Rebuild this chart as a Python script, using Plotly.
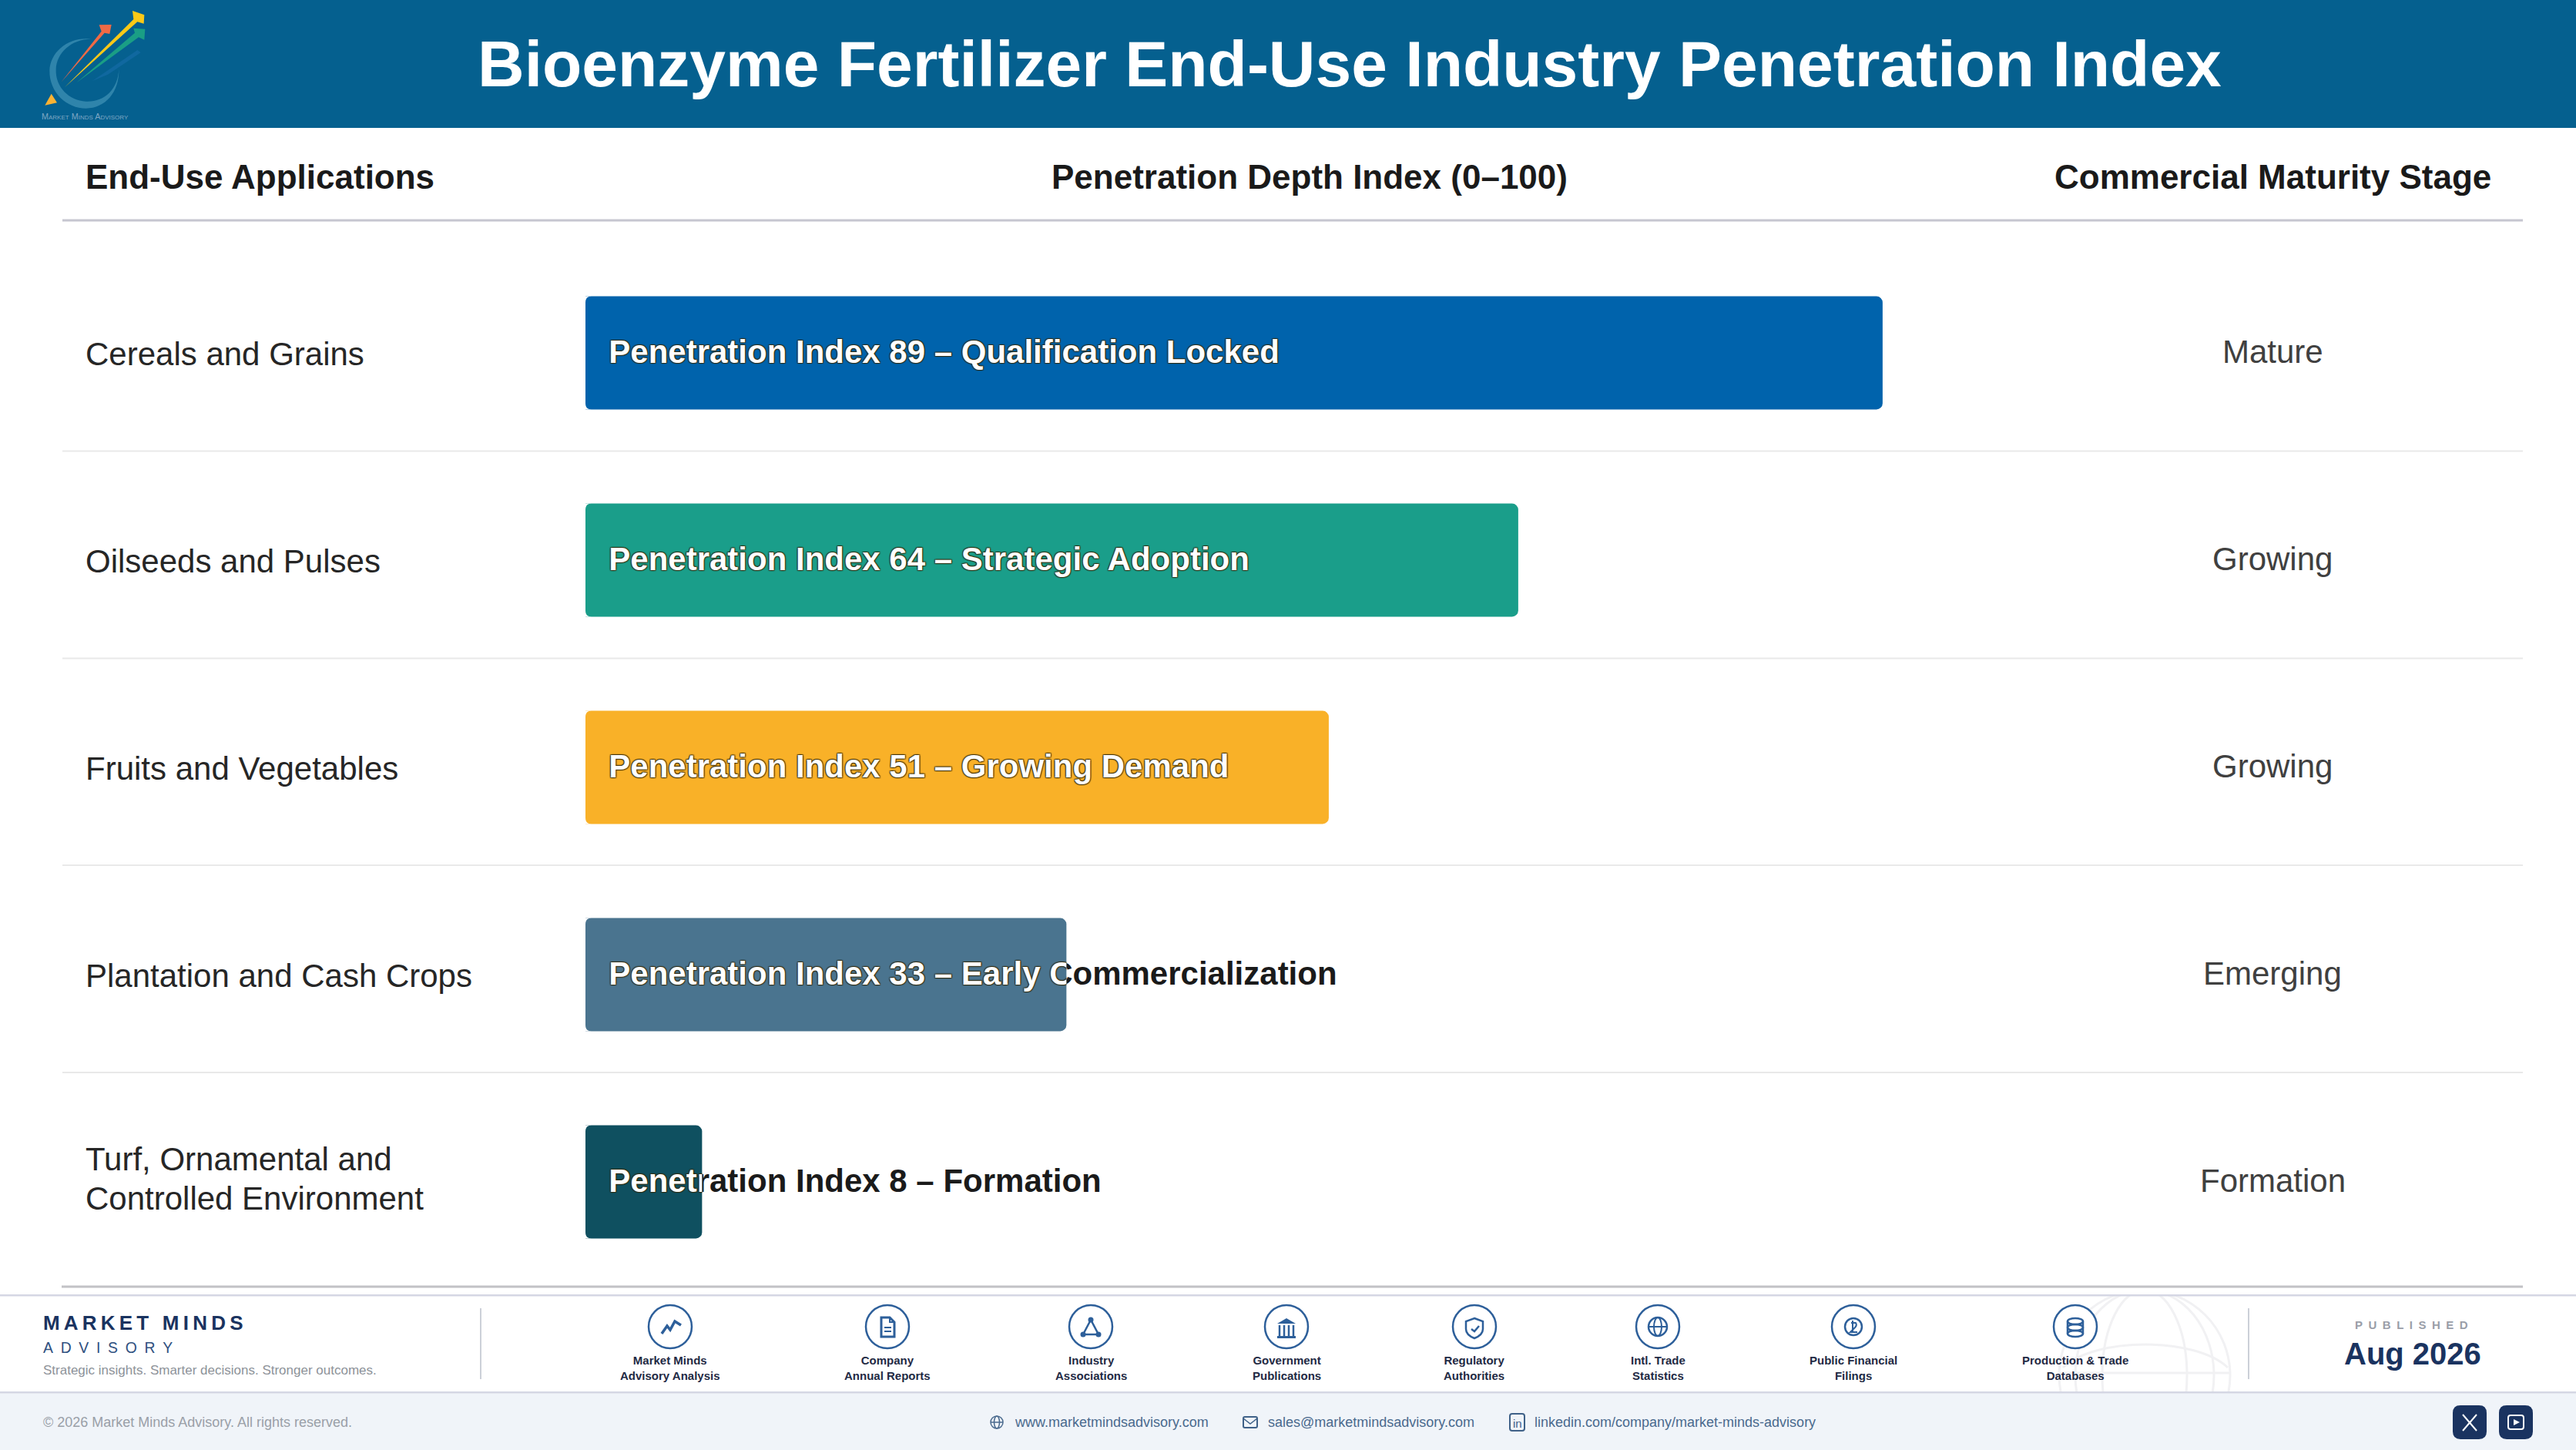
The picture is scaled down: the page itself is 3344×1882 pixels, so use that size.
import re

import plotly.graph_objects as go

W, H = 3344, 1882
FONT = 'Liberation Sans'

categories = ['Cereals and Grains', 'Oilseeds and Pulses', 'Fruits and Vegetables',
              'Plantation and Cash Crops', 'Turf, Ornamental and<br>Controlled Environment']
index_values = [89, 64, 51, 33, 8]
index_stages = ['Qualification Locked', 'Strategic Adoption', 'Growing Demand',
                'Early Commercialization', 'Formation']
maturity = ['Mature', 'Growing', 'Growing', 'Emerging', 'Formation']
bar_colors = ['#0063ac', '#1a9e8a', '#f9b128', '#4a748f', '#0f5060']

source_labels = ['Market Minds<br>Advisory Analysis', 'Company<br>Annual Reports', 'Industry<br>Associations',
                 'Government<br>Publications', 'Regulatory<br>Authorities', 'Intl. Trade<br>Statistics',
                 'Public Financial<br>Filings', 'Production &amp; Trade<br>Databases']
source_x = [870, 1152, 1416, 1670, 1914, 2152, 2406, 2694]

NAVY = '#1a3360'
ICON = '#2d5f9a'
BAR_LEFT, BAR_RIGHT = 760, 2652
ROWS_TOP, ROWS_BOTTOM = 323.5, 1668.5
BAR_WIDTH = 0.546
LABEL_PAD = 1.6  # in index units, about 30px
CORNER = 8

labels = [f'Penetration Index {v} – {s}' for v, s in zip(index_values, index_stages)]


def fx(x):
    return x / W


def fy(y):
    return 1 - y / H


def to_paper(d, ox=0, oy=0):
    out = []
    is_x = True
    for tok in re.findall(r'[MLCQZ]|-?\d+\.?\d*', d):
        if tok in 'MLCQZ':
            out.append(tok)
            is_x = True
        elif is_x:
            out.append(f'{fx(float(tok) + ox):.6f}')
            is_x = False
        else:
            out.append(f'{fy(float(tok) + oy):.6f}')
            is_x = True
    return ' '.join(out)


shapes = []
notes = []


def rect(x0, y0, x1, y1, fill):
    shapes.append(dict(type='rect', xref='paper', yref='paper', x0=fx(x0), x1=fx(x1), y0=fy(y0), y1=fy(y1),
                       fillcolor=fill, line_width=0, layer='below'))


def path(d, ox=0, oy=0, fill=None, line=None, lw=0, layer='below'):
    shapes.append(dict(type='path', xref='paper', yref='paper', path=to_paper(d, ox, oy), layer=layer,
                       fillcolor=fill or 'rgba(0,0,0,0)', line=dict(color=line or 'rgba(0,0,0,0)', width=lw)))


def circle(cx, cy, r, fill=None, line=None, lw=0, ry=None):
    ry = ry or r
    shapes.append(dict(type='circle', xref='paper', yref='paper', x0=fx(cx - r), x1=fx(cx + r), y0=fy(cy + ry),
                       y1=fy(cy - ry), layer='below', fillcolor=fill or 'rgba(0,0,0,0)',
                       line=dict(color=line or 'rgba(0,0,0,0)', width=lw)))


def note(text, x, y, size, color, bold=False, anchor='center', **kw):
    notes.append(dict(text=text, xref='paper', yref='paper', x=fx(x), y=fy(y), xanchor=anchor, yanchor='middle',
                      showarrow=False, align=anchor if anchor != 'center' else 'center',
                      font=dict(family=FONT, size=size, color=color, weight=700 if bold else 400, **kw)))


def round_rect(x0, y0, x1, y1, r):
    return (f'M{x0 + r},{y0} L{x1 - r},{y0} Q{x1},{y0} {x1},{y0 + r} L{x1},{y1 - r} Q{x1},{y1} {x1 - r},{y1} '
            f'L{x0 + r},{y1} Q{x0},{y1} {x0},{y1 - r} L{x0},{y0 + r} Q{x0},{y0} {x0 + r},{y0} Z')


# header band
rect(0, 0, W, 166, '#05608f')

# logo, drawn in the coordinates of a 3x crop
def logo(d, fill):
    pts = re.sub(r'-?\d+\.?\d*', lambda m: str(float(m.group()) / 3), d)
    path(pts, 40, 0, fill=fill)


logo('M238,152 C150,140 75,200 73,275 C72,360 140,422 215,422 C290,422 345,360 343,268 '
     'C340,350 285,398 215,395 C150,392 95,340 98,270 C100,205 160,150 238,152 Z', '#2f84ab')
logo('M240,315 L415,195 L428,205 L300,290 Z', '#10689f')
logo('M178,322 L405,128 L400,110 L445,113 L442,155 L420,145 Z', '#1a9e85')
logo('M118,320 L275,122 L266,97 L314,96 L307,132 L287,128 Z', '#ef6a45')
logo('M132,340 L400,75 L396,42 L442,58 L440,92 L415,85 Z', '#fcc917')
logo('M80,365 L102,400 L55,410 Z', '#f9b233')
note('Market Minds Advisory', 110, 151, 10.8, '#7fa7c4', variant='small-caps')

note('Bioenzyme Fertilizer End-Use Industry Penetration Index', 1752, 83, 84, '#ffffff', bold=True)

# column headers
note('End-Use Applications', 108.5, 230, 44, '#1a1a1a', bold=True, anchor='left')
note('Penetration Depth Index (0–100)', 1700, 230, 44, '#1a1a1a', bold=True)
note('Commercial Maturity Stage', 2950, 230, 44, '#1a1a1a', bold=True)
rect(81, 284.5, 3275, 287.5, '#c6c6d0')

# row rules
for y in [585.5, 854.5, 1123, 1392]:
    rect(81, y - 1, 3275, y + 1, '#e9e9e9')

# footer globe watermark
circle(2784, 1785, 111, line='#f1f1f3', lw=3)
circle(2784, 1785, 55, line='#f1f1f3', lw=3, ry=111)
circle(2784, 1785, 90, line='#f1f1f3', lw=3, ry=111)
path('M2678,1775 C2720,1735 2850,1735 2892,1775', line='#f1f1f3', lw=3)
path('M2674,1782 L2894,1782', line='#f1f1f3', lw=3)
rect(2640, 1672, 2940, 1681, '#ffffff')
rect(0, 1807, W, H, '#f0f4f9')
rect(80, 1668.5, 3275, 1671.5, '#c2c2c6')
rect(0, 1680, W, 1682.5, '#d5d7e4')
rect(0, 1806, W, 1808.5, '#d5d7e4')
rect(623, 1698, 625, 1790, '#ccd0d8')
rect(2918, 1698, 2920, 1790, '#ccd0d8')

# footer brand
note('M\u2009A\u2009R\u2009K\u2009E\u2009T\u2009 \u2009M\u2009I\u2009N\u2009D\u2009S', 54, 1717, 26, NAVY, bold=True,
     anchor='left')
note('A\u2002D\u2002V\u2002I\u2002S\u2002O\u2002R\u2002Y', 54, 1749, 19.4, '#2f5080', anchor='left')
note('Strategic insights. Smarter decisions. Stronger outcomes.', 54, 1778, 17, '#8d9299', anchor='left')

# source icons
for x, label in zip(source_x, source_labels):
    circle(x, 1722, 28, fill='#ffffff', line=ICON, lw=2.5)
    note(label, x, 1775, 15, '#1f2a44', bold=True)

cx, cy = source_x[0], 1722
path('M-11,9 L-4,-1 L0,4 L6,-7 L14,-2', cx, cy, line=ICON, lw=3.5)
cx = source_x[1]
path('M-8,-12 L3,-12 L9,-6 L9,13 L-8,13 Z', cx, cy, line=ICON, lw=3)
path('M3,-12 L3,-6 L9,-6', cx, cy, line=ICON, lw=2)
path('M-4,1 L5,1', cx, cy, line=ICON, lw=2)
path('M-4,6 L5,6', cx, cy, line=ICON, lw=2)
cx = source_x[2]
path('M0,-9 L-10,10 L10,10 Z', cx, cy, line=ICON, lw=2.5)
for dx, dy in [(0, -9), (-10, 10), (10, 10)]:
    circle(cx + dx, cy + dy, 3.5, fill=ICON)
cx = source_x[3]
path('M-12,-4 L0,-11 L12,-4 Z', cx, cy, fill=ICON)
for dx in [-9, -3, 3, 9]:
    path(f'M{dx + 10},-2 L{dx + 10},12', cx - 10, cy, line=ICON, lw=2.5)
rect(cx - 12, cy + 12, cx + 12, cy + 15, ICON)
cx = source_x[4]
path('M0,-11 L11,-7 L11,3 C11,9 5,13 0,15 C-5,13 -11,9 -11,3 L-11,-7 Z', cx, cy, line=ICON, lw=2.5)
path('M-4,3 L0,6 L6,-1', cx, cy, line=ICON, lw=2.5)
cx = source_x[5]
circle(cx, cy, 12, line=ICON, lw=2.5)
circle(cx, cy, 5, line=ICON, lw=2, ry=12)
path('M-12,0 L12,0', cx, cy, line=ICON, lw=2)
cx = source_x[6]
circle(cx, cy, 11, line=ICON, lw=2.5)
path('M-3,-5 L3,-5 Q5,-2 2,1 L-4,7 L5,7', cx, cy, line=ICON, lw=2)
path('M-1,-8 L-1,8', cx, cy, line=ICON, lw=2)
cx = source_x[7]
for dy in [-7, 1, 9]:
    circle(cx, cy + dy, 10, line=ICON, lw=2.5, ry=4)
path('M-10,-7 L-10,9', cx + 0, cy, line=ICON, lw=2.5)
path('M10,-7 L10,9', cx, cy, line=ICON, lw=2.5)

# published block
note('P\u2002U\u2002B\u2002L\u2002I\u2002S\u2002H\u2002E\u2002D', 3130, 1719, 15, '#9a9ea8', bold=True)
note('Aug 2026', 3132, 1757, 40, NAVY, bold=True)

# bottom strip
note('© 2026 Market Minds Advisory. All rights reserved.', 54, 1846, 18, '#9aa0a8', anchor='left')
note('www.marketmindsadvisory.com', 1314.5, 1846, 18, '#4a6a8e', anchor='left')
note('sales@marketmindsadvisory.com', 1644, 1846, 18, '#4a6a8e', anchor='left')
note('linkedin.com/company/market-minds-advisory', 1990, 1846, 18, '#4a6a8e', anchor='left')
circle(1294, 1846, 8, line='#4a6a8e', lw=1.5)
circle(1294, 1846, 3.5, line='#4a6a8e', lw=1.5, ry=8)
path('M1286,1846 L1302,1846', line='#4a6a8e', lw=1.5)
path(round_rect(1614, 1839, 1632, 1853, 2), line='#3f6188', lw=2)
path('M1614,1841 L1623,1848 L1632,1841', line='#3f6188', lw=1.5)
path(round_rect(1960, 1835, 1979, 1857, 3), line='#3f6188', lw=2)
note('in', 1969.5, 1847, 15, '#3f6188')
path(round_rect(3184, 1824, 3228, 1868, 10), fill=NAVY)
path(round_rect(3244, 1824, 3288, 1868, 10), fill=NAVY)
path('M3197,1836 L3215,1857', line='#ffffff', lw=2)
path('M3215,1836 L3197,1857', line='#ffffff', lw=2)
path(round_rect(3256, 1837, 3276, 1855, 3), line='#ffffff', lw=2)
path('M3263,1842 L3271,1846 L3263,1850 Z', fill='#ffffff')

# plotly only rounds the far end of a bar, so mask the two corners at the axis side
row_px = (ROWS_BOTTOM - ROWS_TOP) / len(categories)
half_bar = BAR_WIDTH * row_px / 2
for i in range(len(categories)):
    mid = ROWS_TOP + (i + 0.5) * row_px
    top, bottom = mid - half_bar, mid + half_bar
    path(f'M{BAR_LEFT},{top} L{BAR_LEFT + CORNER},{top} Q{BAR_LEFT},{top} {BAR_LEFT},{top + CORNER} Z',
         fill='#ffffff', layer='above')
    path(f'M{BAR_LEFT},{bottom} L{BAR_LEFT + CORNER},{bottom} Q{BAR_LEFT},{bottom} {BAR_LEFT},{bottom - CORNER} Z',
         fill='#ffffff', layer='above')

fig = go.Figure()

# dark copy of the labels sits under the bars, only the part past a bar end stays visible
fig.add_trace(go.Scatter(x=[LABEL_PAD] * len(labels), y=categories, text=labels, mode='text', yaxis='y2',
                         textposition='middle right', hoverinfo='skip',
                         textfont=dict(family=FONT, size=42, color='#1a1a1a', weight=700)))
fig.add_trace(go.Bar(x=index_values, y=categories, orientation='h', xaxis='x2', width=BAR_WIDTH,
                     marker=dict(color=bar_colors, cornerradius=CORNER, line_width=0), hoverinfo='skip'))

axes = {}
axis_off = dict(visible=False, fixedrange=True)
cat_axis = dict(type='category', categoryorder='array', categoryarray=categories, range=[4.5, -0.5], **axis_off)
axes['xaxis'] = dict(domain=[fx(BAR_LEFT), fx(BAR_RIGHT)], range=[0, 100], anchor='y2', **axis_off)
axes['xaxis2'] = dict(domain=[fx(BAR_LEFT), fx(BAR_RIGHT)], range=[0, 100], anchor='y', **axis_off)
axes['yaxis'] = dict(domain=[fy(ROWS_BOTTOM), fy(ROWS_TOP)], anchor='x2', **cat_axis)
# text axis sits 2px lower than the bars
axes['yaxis2'] = dict(domain=[fy(ROWS_BOTTOM + 2), fy(ROWS_TOP + 2)], anchor='x', **cat_axis)

# white copy of each label is clipped to its own bar through a narrower subplot
px_per_unit = (BAR_RIGHT - BAR_LEFT) / 100
shadow = ', '.join(f'{dx}px {dy}px 1px rgba(50,40,10,0.75)' for dx, dy in [(1, 1), (-1, -1), (1, -1), (-1, 1)])
for i, (cat, v, label) in enumerate(zip(categories, index_values, labels)):
    name = f'x{i + 3}'
    fig.add_trace(go.Scatter(x=[LABEL_PAD], y=[cat], text=[label], mode='text', xaxis=name, yaxis='y2',
                             textposition='middle right', hoverinfo='skip',
                             textfont=dict(family=FONT, size=42, color='#ffffff', weight=700, shadow=shadow)))
    axes[f'xaxis{i + 3}'] = dict(domain=[fx(BAR_LEFT), fx(BAR_LEFT + v * px_per_unit)], range=[0, v],
                                 anchor='y2', **axis_off)

# row labels and maturity column follow the category axis
LINE_PX = 51
for cat, stage in zip(categories, maturity):
    lines = cat.split('<br>')
    for j, line in enumerate(lines):
        shift = -1 if len(lines) == 1 else 4 + ((len(lines) - 1) / 2 - j) * LINE_PX
        notes.append(dict(text=line, xref='paper', yref='y', x=fx(108.5), y=cat, xanchor='left', yanchor='middle',
                          align='left', showarrow=False, yshift=shift,
                          font=dict(family=FONT, size=42, color='#262626')))
    notes.append(dict(text=stage, xref='paper', yref='y', x=fx(2950), y=cat, xanchor='center', yanchor='middle',
                      showarrow=False, yshift=2, font=dict(family=FONT, size=42, color='#404040')))

fig.update_layout(width=W, height=H, autosize=False, margin=dict(l=0, r=0, t=0, b=0, pad=0),
                  paper_bgcolor='#ffffff', plot_bgcolor='rgba(0,0,0,0)', showlegend=False, barmode='overlay',
                  shapes=shapes, annotations=notes, **axes)

fig.write_html('out.html', config={'displayModeBar': False},
               post_script="document.body.style.margin='0';document.body.style.overflow='hidden';")
